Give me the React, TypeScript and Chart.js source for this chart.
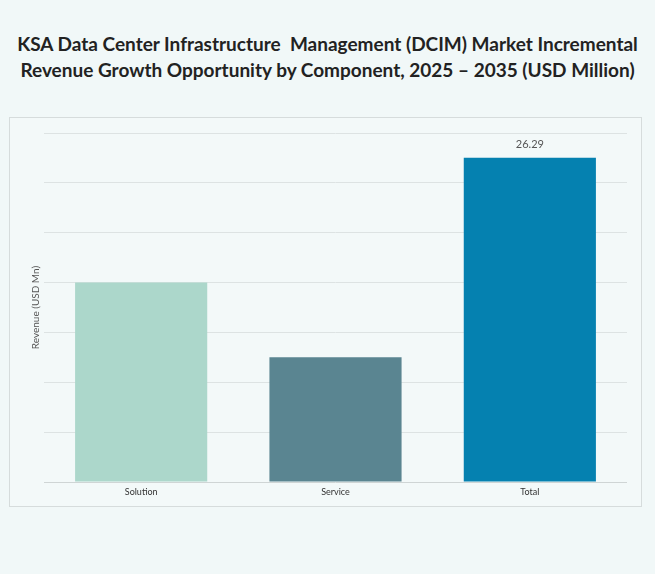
import React, { useEffect, useRef } from 'react';
import { Chart, registerables } from 'chart.js';

Chart.register(...registerables);

const titleLines = [
  'KSA Data Center Infrastructure  Management (DCIM) Market Incremental',
  'Revenue Growth Opportunity by Component, 2025 – 2035 (USD Million)',
];
const categories = ['Solution', 'Service', 'Total'];
const values = [16.18, 10.11, 26.29];
const barColors = ['#acd7cb', '#5a8591', '#0581b0'];
const showValue = [false, false, true];
const yMax = 28.3;
const gridCount = 7;

const valueLabelPlugin = {
  id: 'valueLabels',
  afterDatasetsDraw(chart: any) {
    const ctx = chart.ctx;
    const meta = chart.getDatasetMeta(0);
    ctx.save();
    ctx.font = '11px Lato, sans-serif';
    ctx.fillStyle = '#555';
    ctx.textAlign = 'center';
    ctx.textBaseline = 'bottom';
    meta.data.forEach((bar: any, i: number) => {
      if (!showValue[i]) return;
      ctx.fillText(values[i].toFixed(2), bar.x, bar.y - 8);
    });
    ctx.restore();
  },
};

const App: React.FC = () => {
  const canvasRef = useRef<HTMLCanvasElement>(null);

  useEffect(() => {
    if (!canvasRef.current) return;
    const chart = new Chart(canvasRef.current, {
      type: 'bar',
      data: {
        labels: categories,
        datasets: [
          {
            data: values,
            backgroundColor: barColors,
            categoryPercentage: 1,
            barPercentage: 0.68,
          },
        ],
      },
      options: {
        responsive: true,
        maintainAspectRatio: false,
        animation: false,
        layout: { padding: { left: 14, right: 14, top: 15, bottom: 0 } },
        plugins: {
          legend: { display: false },
          tooltip: { enabled: false },
        },
        scales: {
          x: {
            grid: { display: false, drawTicks: false, tickLength: 0 },
            border: { display: false },
            ticks: {
              color: '#333',
              font: { family: 'Lato, sans-serif', size: 9 },
              padding: 5,
            },
            afterFit: (scale: any) => {
              scale.height = 24;
            },
          },
          y: {
            min: 0,
            max: yMax,
            afterBuildTicks: (scale: any) => {
              scale.ticks = Array.from({ length: gridCount + 1 }, (_, i) => ({
                value: (yMax / gridCount) * i,
              }));
            },
            ticks: { display: false },
            grid: {
              drawTicks: false,
              color: (c: any) => (c.tick && c.tick.value === 0 ? '#cfd5d5' : '#dde3e3'),
            },
            border: { display: false },
            title: {
              display: true,
              text: 'Revenue (USD Mn)',
              color: '#555',
              font: { family: 'Lato, sans-serif', size: 10 },
              padding: { top: 6, bottom: 0 },
            },
            afterFit: (scale: any) => {
              scale.width = 20;
            },
          },
        },
      },
      plugins: [valueLabelPlugin],
    });
    return () => chart.destroy();
  }, []);

  return (
    <div
      style={{
        position: 'fixed',
        left: 0,
        top: 0,
        width: 655,
        height: 574,
        background: '#f1f8f8',
        fontFamily: 'Lato, sans-serif',
      }}
    >
      <div
        style={{
          position: 'absolute',
          left: 0,
          top: 31,
          width: 655,
          textAlign: 'center',
          fontWeight: 700,
          fontSize: 19,
          lineHeight: '26px',
          color: '#222',
          whiteSpace: 'pre',
        }}
      >
        {titleLines.map((t) => (
          <div key={t}>{t}</div>
        ))}
      </div>
      <div
        style={{
          position: 'absolute',
          left: 9,
          top: 117,
          width: 633,
          height: 390,
          boxSizing: 'border-box',
          border: '1px solid #d6dcdc',
          background: '#f3f9f9',
        }}
      >
        <canvas ref={canvasRef}></canvas>
      </div>
    </div>
  );
};

export default App;
